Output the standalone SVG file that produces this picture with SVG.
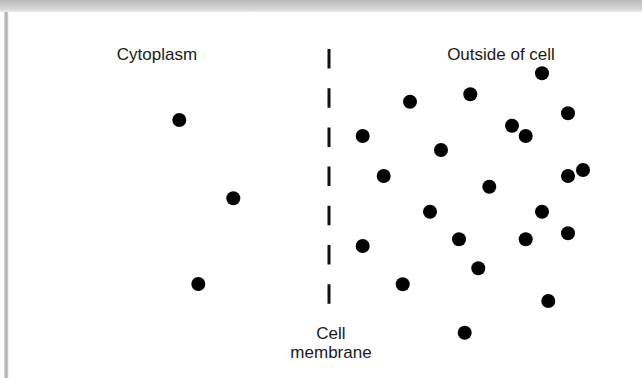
<svg xmlns="http://www.w3.org/2000/svg" width="642" height="378" viewBox="0 0 642 378">
  <defs>
    <linearGradient id="topShade" x1="0" y1="0" x2="0" y2="1">
      <stop offset="0" stop-color="#b9b9b9"/>
      <stop offset="0.8" stop-color="#d9d9d9"/>
      <stop offset="1" stop-color="#eeeeee"/>
    </linearGradient>
    <linearGradient id="sideShade" x1="0" y1="0" x2="1" y2="0">
      <stop offset="0" stop-color="#e2e2e2"/>
      <stop offset="0.5" stop-color="#a8a8a8"/>
      <stop offset="1" stop-color="#e6e6e6"/>
    </linearGradient>
  </defs>
  <style>
    .label { font-family: "Liberation Sans", Arial, sans-serif; font-size: 17px; fill: #1a1a1a; text-anchor: middle; }
    .molecule { fill: #000000; }
    .membrane { stroke: #111111; stroke-width: 3; stroke-dasharray: 19.5 19.7; fill: none; }
  </style>

  <!-- page background and window edge shading -->
  <rect x="0" y="0" width="642" height="378" fill="#ffffff"/>
  <rect x="0" y="0" width="642" height="12" fill="url(#topShade)"/>
  <rect x="4" y="12" width="4.5" height="366" fill="url(#sideShade)"/>

  <!-- region labels -->
  <g id="label-cytoplasm">
    <text class="label" x="157" y="59.5">Cytoplasm</text>
  </g>
  <g id="label-outside">
    <text class="label" x="501" y="59.5">Outside of cell</text>
  </g>

  <!-- cell membrane -->
  <g id="membrane">
    <line class="membrane" x1="329" y1="49" x2="329" y2="304"/>
    <text class="label" x="331" y="339">Cell</text>
    <text class="label" x="331" y="357.5">membrane</text>
  </g>

  <!-- molecules inside the cell -->
  <g id="molecules-inside">
    <circle class="molecule" cx="179.3" cy="120" r="7"/>
    <circle class="molecule" cx="233.3" cy="198.3" r="7"/>
    <circle class="molecule" cx="198.3" cy="284" r="7"/>
  </g>

  <!-- molecules outside the cell -->
  <g id="molecules-outside">
    <circle class="molecule" cx="542" cy="73.3" r="7"/>
    <circle class="molecule" cx="410" cy="101.7" r="7"/>
    <circle class="molecule" cx="470.3" cy="94.3" r="7"/>
    <circle class="molecule" cx="568" cy="113.3" r="7"/>
    <circle class="molecule" cx="362.7" cy="136" r="7"/>
    <circle class="molecule" cx="512" cy="125.7" r="7"/>
    <circle class="molecule" cx="525.7" cy="136" r="7"/>
    <circle class="molecule" cx="441" cy="150" r="7"/>
    <circle class="molecule" cx="383.7" cy="176" r="7"/>
    <circle class="molecule" cx="489.3" cy="186.7" r="7"/>
    <circle class="molecule" cx="568" cy="176" r="7"/>
    <circle class="molecule" cx="583" cy="170" r="7"/>
    <circle class="molecule" cx="430" cy="211.7" r="7"/>
    <circle class="molecule" cx="542" cy="211.7" r="7"/>
    <circle class="molecule" cx="362.7" cy="246" r="7"/>
    <circle class="molecule" cx="459" cy="239.3" r="7"/>
    <circle class="molecule" cx="525.7" cy="239.3" r="7"/>
    <circle class="molecule" cx="568" cy="233.3" r="7"/>
    <circle class="molecule" cx="478.3" cy="268.3" r="7"/>
    <circle class="molecule" cx="402.7" cy="284.3" r="7"/>
    <circle class="molecule" cx="548.3" cy="301" r="7"/>
    <circle class="molecule" cx="464.7" cy="332.7" r="7"/>
  </g>
</svg>
